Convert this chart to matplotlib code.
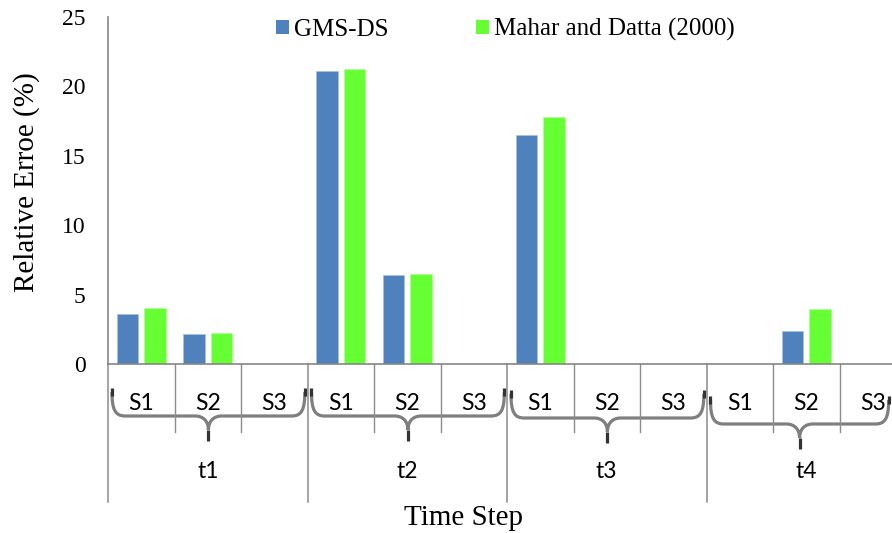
import matplotlib
matplotlib.use("Agg")
import matplotlib.pyplot as plt
import matplotlib.transforms as mtransforms
from matplotlib.path import Path
from matplotlib.patches import PathPatch, Patch
import numpy as np

# data
time_steps = ["t1", "t2", "t3", "t4"]
scenarios = ["S1", "S2", "S3"]
series_names = ["GMS-DS", "Mahar and Datta (2000)"]
gms_ds = [3.6, 2.15, 0, 21.1, 6.4, 0, 16.5, 0, 0, 0, 2.35, 0]
mahar_datta = [4.07, 2.22, 0, 21.25, 6.45, 0, 17.8, 0, 0, 0, 3.97, 0]

colors = ["#4F81BD", "#66FF33"]
serif = "Liberation Serif"
sans = "Lato"

W, H = 892, 533
fig = plt.figure(figsize=(W / 100, H / 100), dpi=100)

# axes placed in pixels: y=0 at 364 px, y=25 at 17 px, left spine at 108 px
ax_left, ax_bottom, ax_top = 108, 364, 17
ax = fig.add_axes([ax_left / W, (H - ax_bottom) / H, (W - ax_left) / W, (ax_bottom - ax_top) / H])

def fy(py):
    return (H - py) / H

def ay(py):
    return (ax_bottom - py) / (ax_bottom - ax_top)

n = len(time_steps) * len(scenarios)
x = np.arange(n)
bw = 0.327
off = 0.207
ax.bar(x - off, gms_ds, bw, color=colors[0], edgecolor="#a9c1e0", linewidth=0.5, zorder=2)
ax.bar(x + off, mahar_datta, bw, color=colors[1], edgecolor="#b3ff99", linewidth=0.5, zorder=2)

cat_px = 66.5
ax.set_xlim(-0.5, -0.5 + (W - ax_left) / cat_px)
ax.set_ylim(0, 25)
ax.set_yticks(range(0, 26, 5))
ax.set_xticks([])
ax.tick_params(axis="y", length=0, pad=16, labelsize=17)
for lab in ax.get_yticklabels():
    lab.set_fontfamily(serif)

for s in ["top", "right"]:
    ax.spines[s].set_visible(False)
for s in ["left", "bottom"]:
    ax.spines[s].set_color("#868686")
    ax.spines[s].set_linewidth(1.2)

trans = mtransforms.blended_transform_factory(ax.transData, ax.transAxes)
grid_c = "#8c8c8c"

# category dividers below the axis (multi-level axis)
for i in range(n + 1):
    xe = i - 0.5
    if i % 3 == 0:
        ax.plot([xe, xe], [0, ay(502)], color=grid_c, lw=1.1, transform=trans, clip_on=False)
    else:
        ax.plot([xe, xe], [0, ay(432)], color=grid_c, lw=1.0, transform=trans, clip_on=False)

# S labels and t labels
for i in range(n):
    ax.text(x[i], ay(403), scenarios[i % 3], transform=trans, ha="center", va="center",
            fontsize=16.5, family=sans, clip_on=False)
for g, t in enumerate(time_steps):
    ax.text(g * 3 + 1, ay(471), t, transform=trans, ha="center", va="center",
            fontsize=16.5, family=sans, clip_on=False)

# curly braces under each time step
brace_drop = [0, 0, 2, 8]
xmax = ax.get_xlim()[1]
for g in range(len(time_steps)):
    xl = g * 3 - 0.5 + 0.06
    xr = min(g * 3 + 2.5 - 0.04, xmax - 0.05)
    xc = (xl + xr) / 2
    d = brace_drop[g]
    y_top, y_h, y_mid, y_tip = 392 + d, 416 + d, 430 + d, 441 + d
    c = 0.2
    verts = [
        (xl, ay(y_top)),
        (xl, ay(y_h - 6)), (xl + 0.05, ay(y_h)), (xl + c, ay(y_h)),
        (xc - c, ay(y_h)),
        (xc - 0.08, ay(y_h)), (xc, ay(y_h + 5)), (xc, ay(y_mid)),
        (xc, ay(y_h + 5)), (xc + 0.08, ay(y_h)), (xc + c, ay(y_h)),
        (xr - c, ay(y_h)),
        (xr - 0.05, ay(y_h)), (xr, ay(y_h - 6)), (xr, ay(y_top)),
    ]
    codes = [Path.MOVETO,
             Path.CURVE4, Path.CURVE4, Path.CURVE4,
             Path.LINETO,
             Path.CURVE4, Path.CURVE4, Path.CURVE4,
             Path.CURVE4, Path.CURVE4, Path.CURVE4,
             Path.LINETO,
             Path.CURVE4, Path.CURVE4, Path.CURVE4]
    ax.add_patch(PathPatch(Path(verts, codes), facecolor="none", edgecolor="#7f7f7f",
                           lw=2.3, transform=trans, clip_on=False))
    for xe in (xl, xr):
        ax.plot([xe, xe], [ay(y_top - 4), ay(y_top + 4)], color="#333333", lw=2.3,
                transform=trans, clip_on=False, solid_capstyle="butt")
    ax.plot([xc, xc], [ay(y_mid), ay(y_tip)], color="#333333", lw=2.3,
            transform=trans, clip_on=False, solid_capstyle="butt")

handles = [Patch(facecolor=c, edgecolor="none") for c in colors]
fig.legend(handles, series_names, loc="center left", bbox_to_anchor=(276 / W, fy(29.5)),
           ncol=2, frameon=False, prop={"family": serif, "size": 18},
           handlelength=0.5, handleheight=0.5, handletextpad=0.22,
           columnspacing=3.5, borderpad=0, borderaxespad=0)

fig.text(27 / W, fy(182.5), "Relative Erroe (%)", rotation=90, ha="center", va="center",
         fontsize=21, family=serif)
fig.text(463.5 / W, fy(525), "Time Step", ha="center", va="baseline", fontsize=21, family=serif)

fig.savefig("out.png", dpi=100)
plt.close(fig)
